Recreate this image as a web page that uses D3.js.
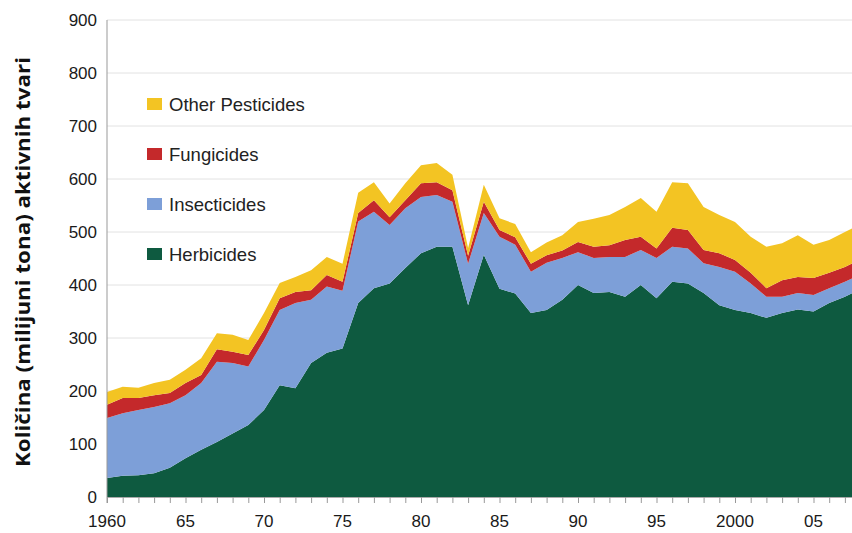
<html>
<head>
<meta charset="utf-8"/>
<title>Pesticidi</title>
<script src="https://d3js.org/d3.v7.min.js"></script>
<style>
  body{margin:0;background:#fff;}
  svg text{font-family:"Liberation Sans", Arial, sans-serif;}
  .ytitle{font-family:"Open Sans", sans-serif !important;font-weight:700;font-size:20px;fill:#111;}
</style>
</head>
<body>
<svg id="chart" width="852" height="533"></svg>
<script>
// values in million tons of active ingredient, per year
var years = d3.range(1960, 2009);
var herbicides = [36,40,41,45,55,73,89,104,120,136,164,211,205,253,272,280,366,394,403,432,
                  460,472,472,362,457,393,384,347,353,372,400,385,387,378,400,375,406,403,385,362,
                  353,347,338,347,354,350,366,378,392];
var insecticides = [113,118,123,125,122,119,126,151,133,110,132,142,161,119,125,109,154,144,110,113,
                    106,98,85,78,79,98,92,78,89,79,62,66,66,75,66,76,66,66,56,72,
                    72,56,40,31,31,31,28,28,28];
var fungicides = [25,29,23,22,19,23,15,24,21,22,19,22,21,18,22,17,16,22,15,15,
                  26,24,22,15,21,13,14,15,14,14,19,21,22,32,25,18,36,35,25,26,
                  22,20,16,31,30,32,29,28,28];
var otherPesticides = [24,21,19,23,25,25,32,30,32,28,32,29,28,38,34,34,38,34,26,32,
                       34,36,29,15,32,22,25,22,24,29,38,53,57,62,73,69,86,88,81,72,
                       72,68,78,70,79,63,62,66,67];

var seriesKeys = ["herbicides", "insecticides", "fungicides", "other"];
var seriesNames = {herbicides:"Herbicides", insecticides:"Insecticides", fungicides:"Fungicides", other:"Other Pesticides"};
var seriesColors = {herbicides:"#0e5a40", insecticides:"#7d9fd8", fungicides:"#c4292b", other:"#f3c423"};
var yTicks = [0,100,200,300,400,500,600,700,800,900];
var xLabelYears = [1960,1965,1970,1975,1980,1985,1990,1995,2000,2005];
var xLabels = ["1960","65","70","75","80","85","90","95","2000","05"];

var rows = years.map(function(yr, i){
    return {year:yr, herbicides:herbicides[i], insecticides:insecticides[i],
            fungicides:fungicides[i], other:otherPesticides[i]};
});

var svg = d3.select("#chart");
var plotLeft = 107, plotTop = 20, plotBottom = 497;

var x = d3.scaleLinear().domain([1960, 2008]).range([plotLeft, plotLeft + 48 * 15.7]);
var y = d3.scaleLinear().domain([0, 900]).range([plotBottom, plotTop]);

svg.append("defs").append("clipPath").attr("id", "plotclip")
   .append("rect").attr("x", plotLeft).attr("y", 0).attr("width", 852 - plotLeft).attr("height", plotBottom);

// grid
svg.append("g").selectAll("line").data(yTicks.filter(function(d){return d > 0;}))
   .enter().append("line")
   .attr("x1", plotLeft).attr("x2", 852)
   .attr("y1", function(d){return y(d);}).attr("y2", function(d){return y(d);})
   .attr("stroke", "#e2e2e2").attr("stroke-width", 1);

var stacked = d3.stack().keys(seriesKeys)(rows);
var area = d3.area()
    .x(function(d){return x(d.data.year);})
    .y0(function(d){return y(d[0]);})
    .y1(function(d){return y(d[1]);});

svg.append("g").attr("clip-path", "url(#plotclip)")
   .selectAll("path").data(stacked).enter().append("path")
   .attr("d", area)
   .attr("fill", function(d){return seriesColors[d.key];});

// axes
svg.append("line").attr("x1", plotLeft).attr("x2", plotLeft).attr("y1", plotTop).attr("y2", plotBottom + 6)
   .attr("stroke", "#999").attr("stroke-width", 1);
svg.append("line").attr("x1", plotLeft).attr("x2", 852).attr("y1", plotBottom + 0.5).attr("y2", plotBottom + 0.5)
   .attr("stroke", "#aaa").attr("stroke-width", 1);

var xAxis = d3.axisBottom(x).tickValues(years).tickSize(6).tickFormat("");
var gx = svg.append("g").attr("transform", "translate(0," + plotBottom + ")").call(xAxis);
gx.select(".domain").remove();
gx.selectAll(".tick line").attr("stroke", "#999");

svg.append("g").selectAll("text").data(xLabelYears).enter().append("text")
   .attr("x", function(d){return x(d);}).attr("y", 527)
   .attr("text-anchor", "middle")
   .attr("font-size", 17).attr("fill", "#1a1a1a")
   .text(function(d, i){return xLabels[i];});

var yAxis = d3.axisLeft(y).tickValues(yTicks).tickSize(0).tickPadding(10);
var gy = svg.append("g").attr("transform", "translate(" + plotLeft + ",0)").call(yAxis);
gy.select(".domain").remove();
gy.selectAll("text").attr("font-size", 17).attr("fill", "#1a1a1a")
  .style("font-family", "'Liberation Sans', Arial, sans-serif");

svg.append("text").attr("class", "ytitle")
   .attr("transform", "translate(30," + 262 + ") rotate(-90)")
   .attr("text-anchor", "middle")
   .attr("textLength", 410).attr("lengthAdjust", "spacingAndGlyphs")
   .text("Količina (milijuni tona) aktivnih tvari");

// legend
var legendOrder = ["other", "fungicides", "insecticides", "herbicides"];
var lg = svg.append("g").selectAll("g").data(legendOrder).enter().append("g")
   .attr("transform", function(d, i){return "translate(147," + (104 + i * 50) + ")";});
lg.append("rect").attr("x", 0).attr("y", -6).attr("width", 15).attr("height", 12)
  .attr("fill", function(d){return seriesColors[d];});
lg.append("text").attr("x", 22).attr("y", 6.5)
  .attr("font-size", 18.5).attr("fill", "#222")
  .text(function(d){return seriesNames[d];});
</script>
</body>
</html>
